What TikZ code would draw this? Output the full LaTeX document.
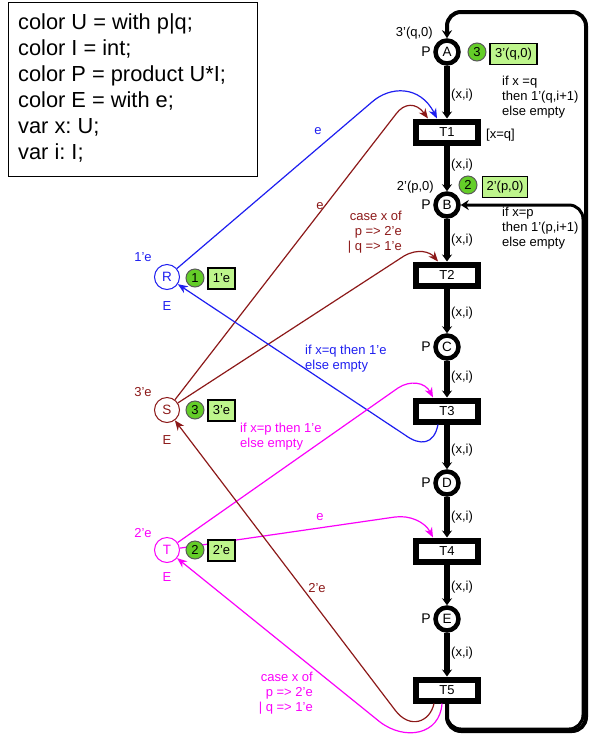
\documentclass[tikz,border=0pt]{standalone}
\usepackage{fontspec}
\setmainfont{Liberation Sans}
\usetikzlibrary{arrows.meta}
\frenchspacing
\definecolor{arcblue}{RGB}{30,30,240}
\definecolor{arcbrown}{RGB}{140,25,25}
\definecolor{arcmag}{RGB}{250,0,250}
\definecolor{tokgreen}{RGB}{100,205,40}
\definecolor{boxgreen}{RGB}{190,245,140}
\begin{document}
\begin{tikzpicture}[x=1pt,y=-1pt,
  place/.style={circle,draw,line width=4.5pt,minimum size=23pt,inner sep=0pt,font=\fontsize{13.5}{13.5}\selectfont},
  trans/.style={rectangle,draw,line width=6pt,minimum width=62pt,minimum height=21pt,inner sep=0pt,font=\fontsize{13}{13}\selectfont},
  res/.style={circle,draw,line width=1pt,minimum size=25pt,inner sep=0pt,fill=white,font=\fontsize{13.5}{13.5}\selectfont},
  tok/.style={circle,draw=black!65,fill=tokgreen,line width=1pt,minimum size=18pt,inner sep=0pt,font=\fontsize{13}{13}\selectfont},
  tokbox/.style={rectangle,draw,fill=boxgreen,line width=1.2pt,minimum height=21pt,inner sep=2pt,font=\fontsize{13}{13}\selectfont},
  lbl/.style={font=\fontsize{13}{15}\selectfont,inner sep=0pt},
  plbl/.style={font=\fontsize{14}{14}\selectfont,inner sep=0pt},
  thickarc/.style={line width=5.5pt,-{Stealth[length=7pt,width=10pt]}},
  looparc/.style={rounded corners=14pt,-{Stealth[length=8pt,width=10pt]}},
  colarc/.style={line width=1.2pt,-{Stealth[length=10pt,width=8pt]}},
]
\useasboundingbox (0,0) rectangle (589,740);

% declarations
\draw[line width=1pt] (8,2) rectangle (257,176);
\node[anchor=west,align=left,inner sep=0pt,font=\fontsize{21.8}{26}\selectfont] (decl) at (18,88)
  {color U = with p|q;\\color I = int;\\color P = product U*I;\\color E = with e;\\var x: U;\\var i: I;};

% places and transitions
\node[place] (A) at (447,52) {A};
\node[trans] (T1) at (447,132) {T1};
\node[place] (B) at (447,205) {B};
\node[trans] (T2) at (447,275) {T2};
\node[place] (C) at (447,347) {C};
\node[trans] (T3) at (447,411) {T3};
\node[place] (D) at (447,483) {D};
\node[trans] (T4) at (447,551) {T4};
\node[place] (E) at (447,619) {E};
\node[trans] (T5) at (447,690) {T5};

\node[res,draw=arcblue,text=arcblue] (R) at (167,277) {R};
\node[res,draw=arcbrown,text=arcbrown] (S) at (167,410) {S};
\node[res,draw=arcmag,text=arcmag] (T) at (167,550) {T};

% thick arcs
\draw[thickarc] (A) -- (T1);
\draw[thickarc] (T1) -- (B);
\draw[thickarc] (B) -- (T2);
\draw[thickarc] (T2) -- (C);
\draw[thickarc] (C) -- (T3);
\draw[thickarc] (T3) -- (D);
\draw[thickarc] (D) -- (T4);
\draw[thickarc] (T4) -- (E);
\draw[thickarc] (E) -- (T5);

% return loops
\draw[looparc,line width=3pt] (T5.south) -- (447,729) -- (583,729) -- (583,205) -- (B.east);
\draw[looparc,line width=4pt] (T5.south) -- (447,731) -- (586,731) -- (586,12) -- (447,12) -- (A.north);

% coloured arcs
\draw[colarc,arcblue] (R) -- (372,102) .. controls (390,86) and (420,85) .. ([xshift=-10pt]T1.north);
\draw[colarc,arcbrown] (S) -- (396,114) .. controls (404,103) and (416,102) .. ([xshift=-19pt]T1.north);
\draw[colarc,arcbrown] (S) -- (404,256) .. controls (418,248) and (430,252) .. ([xshift=-9pt]T2.north);
\draw[colarc,arcblue] ([xshift=-9pt]T3.south) .. controls (434,445) and (420,446) .. (405,435) -- (R);
\draw[colarc,arcmag] (T) -- (398,388) .. controls (410,380) and (425,382) .. ([xshift=-14pt]T3.north);
\draw[colarc,arcmag] (T) -- (395,517) .. controls (410,515) and (425,522) .. ([xshift=-14pt]T4.north);
\draw[colarc,arcbrown] ([xshift=-13pt]T5.south) .. controls (430,722) and (410,730) .. (395,710) -- (S);
\draw[colarc,arcmag] ([xshift=-5pt]T5.south) .. controls (440,735) and (405,741) .. (380,722) -- (T);

% tokens
\node[tok] (tA) at (477,52) {3};
\node[tokbox,minimum width=47pt] (mA) at (513.5,54) {3'(q,0)};
\node[tok] (tB) at (468,185) {2};
\node[tokbox,minimum width=45pt] (mB) at (505,187) {2'(p,0)};
\node[tok] (tR) at (195,278) {1};
\node[tokbox,minimum width=27pt] (mR) at (221.5,278.5) {1'e};
\node[tok] (tS) at (195,410) {3};
\node[tokbox,minimum width=27pt] (mS) at (221.5,410.5) {3'e};
\node[tok] (tT) at (195,550) {2};
\node[tokbox,minimum width=27pt] (mT) at (221.5,550.5) {2'e};

% place labels
\foreach \p/\y in {A/52,B/205,C/347,D/483,E/619} {\node[plbl] (P\p) at (426,\y) {P};}
\node[lbl,anchor=east] (iA) at (433,33) {3'(q,0)};
\node[lbl,anchor=east] (iB) at (434,187) {2'(p,0)};
\node[lbl,text=arcblue] (iR) at (143,257) {1'e};
\node[lbl,text=arcblue] (cR) at (167,306) {E};
\node[lbl,text=arcbrown] (iS) at (143,392) {3'e};
\node[lbl,text=arcbrown] (cS) at (167,440) {E};
\node[lbl,text=arcmag] (iT) at (143,533) {2'e};
\node[lbl,text=arcmag] (cT) at (167,577) {E};

% arc inscriptions
\foreach \y in {95,165,240,313,377,450,517,587,653} {\node[lbl,anchor=west] at (451,\y) {(x,i)};}
\node[lbl,anchor=west] (g1) at (486,135) {[x=q]};
\node[lbl,anchor=west,align=left] (e1) at (502,97) {if x =q\\then 1'(q,i+1)\\else empty};
\node[lbl,anchor=west,align=left] (e2) at (502,228) {if x=p\\then 1'(p,i+1)\\else empty};
\node[lbl,text=arcblue] (e3) at (318,131) {e};
\node[lbl,text=arcbrown] (e4) at (320,206) {e};
\node[lbl,text=arcbrown,anchor=east,align=right] (e5) at (402,232) {case x of\\p => 2'e\\| q => 1'e};
\node[lbl,text=arcblue,anchor=west,align=left] (e6) at (305,359) {if x=q then 1'e\\else empty};
\node[lbl,text=arcmag,anchor=west,align=left] (e7) at (240,437) {if x=p then 1'e\\else empty};
\node[lbl,text=arcmag] (e8) at (320,517) {e};
\node[lbl,text=arcbrown] (e9) at (317,588) {2'e};
\node[lbl,text=arcmag,anchor=east,align=right] (e10) at (313,693) {case x of\\p => 2'e\\| q => 1'e};
\end{tikzpicture}
\end{document}
